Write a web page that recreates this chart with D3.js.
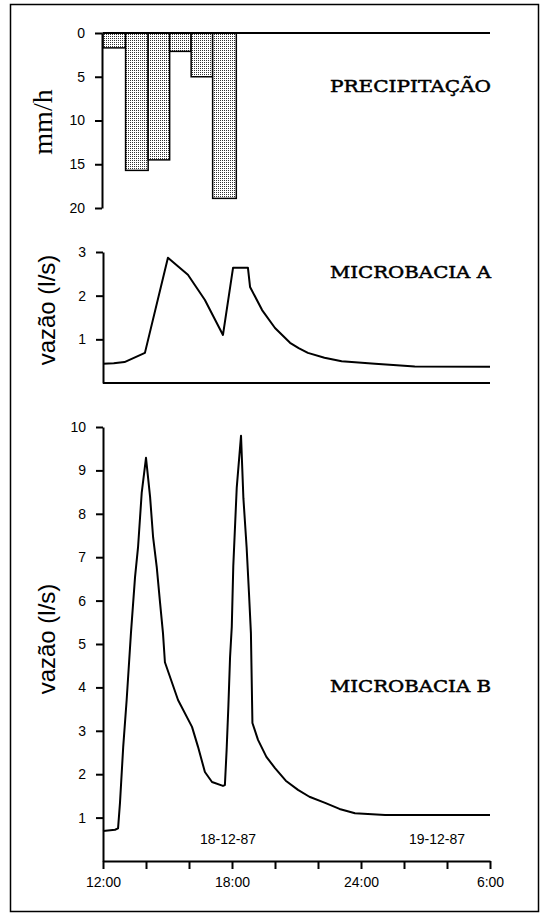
<!DOCTYPE html>
<html>
<head>
<meta charset="utf-8">
<script src="https://cdn.jsdelivr.net/npm/d3@7/dist/d3.min.js"></script>
<style>
  body { margin: 0; background: #fff; }
  svg { display: block; }
</style>
</head>
<body>
<div id="chart"></div>
<script>
/* Precipitação + vazão das microbacias A e B, 18/19-12-87 */

// hours after 12:00
const precipEdges = [0, 1.05, 2.1, 3.1, 4.1, 5.1, 6.2];
const precipValues = [1.7, 15.7, 14.5, 2.1, 5.0, 18.9];

const flowAHours = [0, 0.5, 1.0, 1.95, 3.02, 3.95, 4.74, 5.58, 6.05, 6.74, 6.84, 7.4, 8.0, 8.7, 9.1, 9.53, 10.3, 11.1, 12.65, 13.5, 14.5, 18];
const flowAValues = [0.44, 0.45, 0.48, 0.69, 2.87, 2.48, 1.9, 1.1, 2.64, 2.64, 2.2, 1.67, 1.26, 0.92, 0.8, 0.69, 0.58, 0.5, 0.44, 0.41, 0.38, 0.37];

const flowBHours = [0, 0.56, 0.7, 0.79, 0.94, 1.1, 1.3, 1.49, 1.63, 1.8, 2.0, 2.19, 2.33, 2.5, 2.65, 2.79, 2.88,
  3.49, 4.14, 4.42, 4.74, 5.07, 5.58, 5.67, 5.75, 5.83, 5.91, 5.99, 6.06, 6.22, 6.42,
  6.53, 6.68, 6.79, 6.88, 6.95, 7.21, 7.6, 8.0, 8.5, 9.07, 9.6, 10.33, 11.0, 11.72, 13.12, 18];
const flowBValues = [0.69, 0.72, 0.75, 1.34, 2.63, 3.71, 5.25, 6.54, 7.23, 8.48, 9.29, 8.39, 7.46, 6.77, 5.97, 5.25, 4.58,
  3.71, 3.09, 2.63, 2.05, 1.82, 1.73, 1.75, 2.56, 3.55, 4.7, 5.4, 6.8, 8.6, 9.8,
  8.36, 7.23, 6.17, 5.25, 3.18, 2.79, 2.4, 2.14, 1.85, 1.64, 1.48, 1.34, 1.2, 1.1, 1.06, 1.06];

const timeTicks = [0, 2, 4, 6, 8, 10, 12, 14, 16, 18];
const timeLabels = { 0: '12:00', 6: '18:00', 12: '24:00', 18: '6:00' };
const precipTicks = [0, 5, 10, 15, 20];
const flowATicks = [1, 2, 3];
const flowBTicks = [1, 2, 3, 4, 5, 6, 7, 8, 9, 10];

/* ── Setup ─────────────────────────────────────────────────────────── */

const width = 550;
const height = 923;

const svg = d3.select('#chart')
  .append('svg')
  .attr('width', width)
  .attr('height', height);

svg.append('rect')
  .attr('x', 10.5).attr('y', 4.5)
  .attr('width', 528).attr('height', 907)
  .attr('fill', '#fff')
  .attr('stroke', '#000')
  .attr('stroke-width', 1.5);

// stipple fill for the rain bars
const pat = svg.append('defs').append('pattern')
  .attr('id', 'dots')
  .attr('patternUnits', 'userSpaceOnUse')
  .attr('width', 2).attr('height', 2);
pat.append('rect').attr('width', 2).attr('height', 2).attr('fill', '#fff');
pat.append('rect').attr('width', 1).attr('height', 1).attr('fill', '#333');

const x = d3.scaleLinear().domain([0, 18]).range([103, 490]);
const yP = d3.scaleLinear().domain([0, 20]).range([33, 208]);
const yA = d3.scaleLinear().domain([0, 3]).range([383, 252]);
const yB = d3.scaleLinear().domain([0, 10]).range([861, 427]);

const tickFont = 'Liberation Sans, Arial, sans-serif';
const titleFont = "'DejaVu Serif', serif";

function styleAxis(g) {
  g.attr('font-family', tickFont).attr('font-size', 14);
  g.select('.domain').attr('stroke-width', 2);
  g.selectAll('.tick line').attr('stroke-width', 2);
  g.selectAll('.tick text').attr('fill', '#000');
}

function hLine(yPos) {
  svg.append('line')
    .attr('x1', x(0)).attr('x2', x(18))
    .attr('y1', yPos).attr('y2', yPos)
    .attr('stroke', '#000')
    .attr('stroke-width', 2);
}

function yLabel(text, cx, cy, font, size) {
  svg.append('text')
    .attr('transform', `translate(${cx},${cy}) rotate(-90)`)
    .attr('text-anchor', 'middle')
    .attr('font-family', font)
    .attr('font-size', size)
    .text(text);
}

function title(text, yPos) {
  svg.append('text')
    .attr('x', 330).attr('y', yPos)
    .attr('font-family', titleFont)
    .attr('font-size', 17)
    .attr('textLength', 161)
    .attr('lengthAdjust', 'spacingAndGlyphs')
    .attr('stroke', '#000')
    .attr('stroke-width', 0.5)
    .text(text);
}

/* ── Precipitação ──────────────────────────────────────────────────── */

svg.append('g')
  .selectAll('rect')
  .data(precipValues)
  .join('rect')
  .attr('x', (d, i) => x(precipEdges[i]))
  .attr('y', yP(0))
  .attr('width', (d, i) => x(precipEdges[i + 1]) - x(precipEdges[i]))
  .attr('height', d => yP(d) - yP(0))
  .attr('fill', 'url(#dots)')
  .attr('stroke', '#000')
  .attr('stroke-width', 1.5);

hLine(yP(0));

svg.append('g')
  .attr('transform', 'translate(102,0)')
  .call(d3.axisLeft(yP).tickValues(precipTicks).tickSize(7).tickPadding(10).tickSizeOuter(0)
    .tickFormat(d3.format('d')))
  .call(styleAxis);

yLabel('mm/h', 52, 122, 'Liberation Serif, Times New Roman, serif', 28);
title('PRECIPITAÇÃO', 92);

/* ── Microbacia A ──────────────────────────────────────────────────── */

const flowA = flowAHours.map((h, i) => [h, flowAValues[i]]);

svg.append('path')
  .datum(flowA)
  .attr('fill', 'none')
  .attr('stroke', '#000')
  .attr('stroke-width', 2)
  .attr('stroke-linejoin', 'round')
  .attr('d', d3.line().x(d => x(d[0])).y(d => yA(d[1])));

hLine(yA(0));

svg.append('g')
  .attr('transform', 'translate(103,0)')
  .call(d3.axisLeft(yA).tickValues(flowATicks).tickSize(7).tickPadding(10).tickSizeOuter(0)
    .tickFormat(d3.format('d')))
  .call(styleAxis);

yLabel('vazão (l/s)', 55, 310, tickFont, 24);
title('MICROBACIA A', 278);

/* ── Microbacia B ──────────────────────────────────────────────────── */

const flowB = flowBHours.map((h, i) => [h, flowBValues[i]]);

svg.append('path')
  .datum(flowB)
  .attr('fill', 'none')
  .attr('stroke', '#000')
  .attr('stroke-width', 2)
  .attr('stroke-linejoin', 'round')
  .attr('d', d3.line().x(d => x(d[0])).y(d => yB(d[1])));

svg.append('g')
  .attr('transform', 'translate(103,0)')
  .call(d3.axisLeft(yB).tickValues(flowBTicks).tickSize(7).tickPadding(10).tickSizeOuter(0)
    .tickFormat(d3.format('d')))
  .call(styleAxis);

svg.append('g')
  .attr('transform', `translate(0,${yB(0)})`)
  .call(d3.axisBottom(x).tickValues(timeTicks).tickSize(8).tickPadding(8).tickSizeOuter(0)
    .tickFormat(d => timeLabels[d] || ''))
  .call(styleAxis);

yLabel('vazão (l/s)', 55, 639, tickFont, 24);
title('MICROBACIA B', 692);

// dates under the curve
svg.append('text')
  .attr('x', 228).attr('y', 844)
  .attr('text-anchor', 'middle')
  .attr('font-family', tickFont).attr('font-size', 14)
  .text('18-12-87');

svg.append('text')
  .attr('x', 437).attr('y', 844)
  .attr('text-anchor', 'middle')
  .attr('font-family', tickFont).attr('font-size', 14)
  .text('19-12-87');
</script>
</body>
</html>
